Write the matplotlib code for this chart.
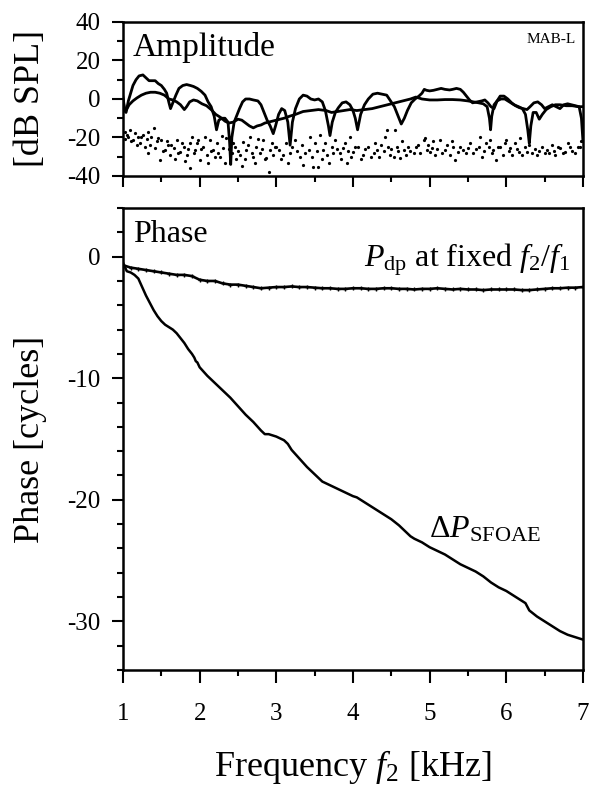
import numpy as np
import matplotlib
matplotlib.use('Agg')
from matplotlib import pyplot as plt
from matplotlib.ticker import MultipleLocator

plt.rcParams['font.family'] = ['Liberation Serif', 'DejaVu Serif']
plt.rcParams['mathtext.fontset'] = 'custom'
plt.rcParams['mathtext.rm'] = 'Liberation Serif'
plt.rcParams['mathtext.it'] = 'Liberation Serif:italic'
plt.rcParams['mathtext.bf'] = 'Liberation Serif:bold'
plt.rcParams['axes.unicode_minus'] = False

# amplitude, two traces (kHz, dB SPL)
amp1_f = [1.00, 1.02, 1.04, 1.07, 1.10, 1.13, 1.17, 1.21, 1.26, 1.30, 1.34, 1.38, 1.42, 1.46, 1.50,
          1.54, 1.57, 1.60, 1.62, 1.65, 1.69, 1.73, 1.78, 1.83, 1.88, 1.92, 1.97, 2.02, 2.07, 2.11,
          2.15, 2.19, 2.22, 2.25, 2.29, 2.33, 2.37, 2.39, 2.405, 2.42, 2.45, 2.48, 2.52, 2.56, 2.60,
          2.65, 2.70, 2.76, 2.80, 2.84, 2.88, 2.92, 2.96, 2.99, 3.03, 3.07, 3.11, 3.15, 3.18, 3.21,
          3.25, 3.30, 3.35, 3.40, 3.45, 3.50, 3.55, 3.60, 3.64, 3.68, 3.70, 3.73, 3.77, 3.81, 3.86,
          3.91, 3.96, 4.00, 4.03, 4.06, 4.10, 4.15, 4.20, 4.26, 4.32, 4.38, 4.44, 4.49, 4.54, 4.59,
          4.63, 4.67, 4.71, 4.76, 4.81, 4.86, 4.90, 4.93, 4.96, 5.00, 5.05, 5.10, 5.15, 5.20, 5.26,
          5.30, 5.35, 5.40, 5.44, 5.48, 5.52, 5.56, 5.62, 5.68, 5.72, 5.76, 5.80, 5.84, 5.88, 5.92,
          5.97, 6.02, 6.07, 6.12, 6.17, 6.22, 6.27, 6.31, 6.36, 6.41, 6.46, 6.50, 6.55, 6.60, 6.65,
          6.70, 6.75, 6.80, 6.85, 6.90, 6.95, 6.98, 7.00]
amp1_db = [0, -6, -7, -1, 3, 7, 10, 12, 12.5, 11, 9.5, 9.5, 9.5, 8, 7,
           5, 3, -2, -5, -2, 2, 5.5, 7, 7.5, 7, 6.5, 5.5, 4, 2, -1.5,
           -4, -9, -16, -11, -10, -10, -12, -22, -34, -20, -12, -9, -5, -1.5, 0,
           0, -0.5, -1, -3, -7, -11, -14, -18, -14, -8, -5, -6, -12, -24, -12,
           -5, 0, 2, 1.5, 0, -0.5, 0, -1.5, -6, -14, -19, -12, -7, -4.5, -2,
           -1.5, -3, -6, -10, -16, -8, -3, 0, 2.5, 3, 2.5, 2, -1, -4, -9,
           -13, -10, -6, -2, 0, 1.5, 3, 5, 4.5, 4.2, 4.5, 5, 5.5, 5, 4.7,
           5, 5.5, 5, 3.5, 1.5, -0.5, -2, -1.5, -1, -0.5, -2, -4, -5, -1, 1.5,
           1.5, 0, -2, -3.5, -4.5, -5, -5.5, -4, -2, -1.5, -3, -5, -4, -3, -4,
           -5, -3, -2.5, -3, -3.5, -4, -10, -22]

amp2_f = [1.00, 1.02, 1.04, 1.08, 1.13, 1.18, 1.24, 1.30, 1.36, 1.42, 1.48, 1.54, 1.60, 1.65, 1.70,
          1.75, 1.80, 1.83, 1.87, 1.92, 1.97, 2.03, 2.09, 2.15, 2.21, 2.27, 2.33, 2.38, 2.44, 2.50,
          2.55, 2.60, 2.65, 2.70, 2.75, 2.80, 2.85, 2.90, 2.95, 3.00, 3.05, 3.10, 3.17, 3.25, 3.35,
          3.45, 3.55, 3.65, 3.72, 3.80, 3.88, 3.96, 4.05, 4.15, 4.25, 4.35, 4.45, 4.55, 4.65, 4.75,
          4.82, 4.90, 5.00, 5.10, 5.20, 5.30, 5.40, 5.50, 5.57, 5.64, 5.70, 5.75, 5.78, 5.795, 5.81,
          5.84, 5.88, 5.93, 5.98, 6.04, 6.10, 6.16, 6.21, 6.25, 6.28, 6.30, 6.32, 6.35, 6.39, 6.43,
          6.47, 6.52, 6.58, 6.64, 6.70, 6.78, 6.86, 6.94, 7.00]
amp2_db = [1, -5, -6, -3, -1, 0.5, 2, 3, 3.5, 3.5, 3, 2, 0, -0.5, -1.5,
           -3, -5.5, -4, -1.5, -0.5, -1, -2.5, -3.5, -5.5, -8, -9.5, -11.5, -12.5, -12, -10.5,
           -11, -12.5, -14, -15, -14, -13.5, -12.5, -12, -11.5, -11, -10.5, -10, -9, -8, -6.5,
           -6, -5.5, -6, -7, -6.5, -6, -5.5, -6, -5.5, -5, -4, -3, -2, -1, 0,
           1, 0, -0.5, -0.5, -0.3, -0.3, -0.5, -1, -1.5, -2, -2.5, -4, -10, -16, -9,
           -3, -1, 0, 0, -1.5, -3, -4, -5, -8, -16, -23, -14, -7, -7, -10.5,
           -8, -5.5, -4, -3, -3, -3.5, -3.5, -4, -4]

# noise floor dots
noise_f = [1.02, 1.03, 1.05, 1.07, 1.09, 1.11, 1.135, 1.16, 1.18, 1.20, 1.22, 1.24, 1.265, 1.29, 1.31,
           1.33, 1.33, 1.35, 1.37, 1.40, 1.42, 1.44, 1.46, 1.48, 1.50,
           1.52, 1.55, 1.57, 1.59, 1.61, 1.63, 1.66, 1.68, 1.70, 1.72, 1.74, 1.77, 1.79, 1.81, 1.83,
           1.85, 1.87, 1.87, 1.90, 1.92, 1.94, 1.96, 1.98, 2.00,
           2.02, 2.05, 2.07, 2.09, 2.11, 2.13, 2.15, 2.18, 2.20, 2.22, 2.24, 2.27, 2.29, 2.31, 2.33,
           2.35, 2.38, 2.42, 2.44, 2.46, 2.48, 2.50,
           2.53, 2.55, 2.57, 2.59, 2.61, 2.63, 2.66, 2.68, 2.70, 2.72, 2.74, 2.76, 2.79, 2.81, 2.83,
           2.85, 2.87, 2.90, 2.92, 2.94, 2.96, 2.98, 3.00,
           3.03, 3.06, 3.09, 3.12, 3.15, 3.18, 3.21, 3.24, 3.27, 3.31, 3.33, 3.35, 3.38, 3.42, 3.44,
           3.46, 3.48, 3.50,
           3.53, 3.55, 3.57, 3.59, 3.61, 3.64, 3.66, 3.69, 3.72, 3.74, 3.76, 3.79, 3.83, 3.85, 3.87,
           3.90, 3.92, 3.94, 3.96, 3.98, 4.00,
           4.03, 4.07, 4.10, 4.13, 4.16, 4.20, 4.23, 4.27, 4.29, 4.31, 4.34, 4.37, 4.40, 4.42, 4.44,
           4.46, 4.48, 4.50,
           4.53, 4.55, 4.57, 4.59, 4.61, 4.64, 4.66, 4.69, 4.72, 4.75, 4.79, 4.82, 4.85, 4.88, 4.92,
           4.94, 4.96, 4.98,
           5.01, 5.03, 5.05, 5.07, 5.10, 5.13, 5.16, 5.20, 5.23, 5.27, 5.29, 5.31, 5.33, 5.37, 5.40,
           5.44, 5.47, 5.50,
           5.53, 5.57, 5.60, 5.64, 5.66, 5.68, 5.71, 5.74, 5.77, 5.79, 5.81, 5.83, 5.87, 5.89, 5.92,
           5.96, 5.98, 6.00,
           6.03, 6.05, 6.08, 6.11, 6.14, 6.16, 6.18, 6.20, 6.24, 6.27, 6.30, 6.33, 6.37, 6.40, 6.43,
           6.46, 6.50,
           6.53, 6.56, 6.59, 6.62, 6.64, 6.67, 6.70, 6.74, 6.77, 6.80, 6.83, 6.86, 6.90, 6.93, 6.96,
           6.98]
noise_db = [-17, -21, -18.7, -20, -16.1, -22, -21.3, -17.8, -24, -19.5, -23, -20, -18.7, -24.7, -21,
            -17, -28.2, -23.9, -20, -15.2, -25.6, -22, -20.4, -31.7, -21.3,
            -27, -26.5, -22, -23.9, -29, -24, -25.6, -31, -21.3, -28, -27.3, -23, -24.7, -32, -29,
            -26, -23, -36, -19.5, -28, -26.5, -23, -21.3, -31.7,
            -26, -24.7, -20, -29, -33, -21.3, -27, -26.5, -30, -23, -28, -30, -19, -25.6, -33,
            -20.4, -26, -28.2, -23, -24.7, -31, -27,
            -29, -35, -22.2, -31, -26.5, -24, -19.5, -28, -30, -33, -24.7, -21, -28.2, -26, -21.3,
            -31, -30.8, -38, -26.5, -23, -29, -25, -24.7,
            -26.5, -31, -29, -23, -33, -28.2, -25, -21.3, -27, -30, -24, -34.3, -28, -26.5, -19.5,
            -30, -35.2, -23,
            -27, -35.2, -18.7, -31, -26.5, -23, -29, -33, -24.7, -28, -21.3, -26, -28.2, -31, -25.6,
            -23, -33.4, -27, -19.5, -30, -27.3,
            -25, -24.7, -31, -29, -26, -24.7, -30, -28.2, -23, -26.5, -30, -23.9, -27, -19.5, -16.1,
            -25, -29, -26,
            -30, -16.1, -24.7, -27, -30.8, -22, -26.5, -29, -24.7, -27, -28.2, -25, -23.9, -28, -21.3,
            -20.4, -26.5, -24,
            -27.3, -25.6, -22, -29, -26, -21.3, -28, -26.5, -24, -29, -22, -24.7, -31.7, -27.3, -25,
            -26.5, -28, -25.6,
            -23, -28.2, -26, -24.7, -19.5, -30, -27, -23, -25, -21.3, -28, -26.5, -31.7, -25, -24.7,
            -29, -23, -21.3,
            -27, -25.6, -29, -23, -26, -27.3, -20.4, -29, -25, -27.3, -24, -28.2, -26, -29, -27,
            -24.7, -28,
            -26.5, -28, -23.9, -27, -29, -25, -25.6, -28, -27.3, -23, -24.7, -27, -28.2, -25, -24.7,
            -22]

# phase (kHz, cycles)
pdp_f = [1.0, 1.1, 1.2, 1.3, 1.4, 1.5, 1.6, 1.7, 1.8, 1.9, 2.0, 2.1, 2.2, 2.3, 2.4, 2.5, 2.6, 2.7,
         2.8, 2.9, 3.0, 3.1, 3.2, 3.3, 3.4, 3.5, 3.6, 3.7, 3.8, 3.9, 4.0, 4.1, 4.2, 4.3, 4.4, 4.5,
         4.6, 4.7, 4.8, 4.9, 5.0, 5.1, 5.2, 5.3, 5.4, 5.5, 5.6, 5.7, 5.8, 5.9, 6.0, 6.1, 6.2, 6.3,
         6.4, 6.5, 6.6, 6.7, 6.8, 6.9, 7.0]
pdp_ph = [-0.7, -0.9, -1.0, -1.1, -1.2, -1.3, -1.4, -1.5, -1.5, -1.6, -1.9, -2.0, -2.0, -2.2, -2.3,
          -2.3, -2.4, -2.5, -2.6, -2.55, -2.5, -2.5, -2.45, -2.5, -2.5, -2.55, -2.6, -2.6, -2.65,
          -2.65, -2.6, -2.6, -2.65, -2.65, -2.6, -2.6, -2.65, -2.65, -2.7, -2.65, -2.65, -2.6, -2.65,
          -2.7, -2.65, -2.7, -2.7, -2.75, -2.7, -2.7, -2.7, -2.7, -2.75, -2.75, -2.7, -2.65, -2.6,
          -2.6, -2.55, -2.55, -2.5]

sf_f = [1.00, 1.05, 1.10, 1.15, 1.20, 1.25, 1.30, 1.35, 1.40, 1.45, 1.50, 1.55, 1.60, 1.65, 1.70,
        1.75, 1.80, 1.85, 1.90, 1.93, 1.95, 1.97, 2.00, 2.10, 2.20, 2.30, 2.40, 2.50, 2.60, 2.70,
        2.80, 2.85, 2.90, 3.00, 3.10, 3.15, 3.20, 3.30, 3.40, 3.50, 3.60, 3.70, 3.80, 3.90, 4.00,
        4.05, 4.10, 4.20, 4.30, 4.40, 4.50, 4.60, 4.70, 4.75, 4.80, 4.90, 5.00, 5.10, 5.20, 5.30,
        5.40, 5.50, 5.60, 5.70, 5.80, 5.90, 6.00, 6.10, 6.20, 6.25, 6.30, 6.40, 6.50, 6.60, 6.70,
        6.80, 6.90, 7.00]
sf_ph = [-0.5, -1.2, -1.3, -1.5, -1.8, -2.5, -3.2, -3.8, -4.4, -4.9, -5.3, -5.6, -5.8, -6.0, -6.3,
         -6.7, -7.1, -7.6, -8.0, -8.3, -8.6, -8.7, -9.1, -9.8, -10.4, -11.0, -11.6, -12.3, -13.0, -13.6,
         -14.3, -14.6, -14.6, -14.8, -15.1, -15.4, -15.9, -16.6, -17.3, -17.9, -18.5, -18.8, -19.1,
         -19.4, -19.7, -19.8, -20.0, -20.4, -20.8, -21.2, -21.6, -22.1, -22.7, -23.0, -23.2, -23.5,
         -23.9, -24.2, -24.5, -24.9, -25.3, -25.6, -25.9, -26.3, -26.8, -27.2, -27.5, -27.9, -28.3,
         -28.5, -29.1, -29.6, -30.0, -30.4, -30.8, -31.1, -31.3, -31.5]

fig = plt.figure(figsize=(5.91, 7.85), dpi=100)
ax1 = fig.add_axes([0.2081, 0.7758, 0.7783, 0.1962])
ax2 = fig.add_axes([0.2081, 0.1465, 0.7783, 0.5885])

ax1.plot(noise_f, noise_db, 'o', color='black', markersize=2.3, markeredgewidth=0)
ax1.plot(amp1_f, amp1_db, color='black', lw=2.0)
ax1.plot(amp2_f, amp2_db, color='black', lw=2.0)

ax2.plot(pdp_f, pdp_ph, color='black', lw=1.9, marker='+', markersize=3.5, markeredgewidth=1.0)
ax2.plot(sf_f, sf_ph, color='black', lw=1.8)

ax1.set_xlim(1, 7)
ax1.set_ylim(-40, 40)
ax1.yaxis.set_major_locator(MultipleLocator(20))
ax1.yaxis.set_minor_locator(MultipleLocator(10))
ax1.xaxis.set_major_locator(MultipleLocator(1))
ax1.xaxis.set_minor_locator(MultipleLocator(0.5))
ax1.tick_params(axis='x', labelbottom=False)

ax2.set_xlim(1, 7)
ax2.set_ylim(-34, 4)
ax2.yaxis.set_major_locator(MultipleLocator(10))
ax2.yaxis.set_minor_locator(MultipleLocator(2))
ax2.xaxis.set_major_locator(MultipleLocator(1))
ax2.xaxis.set_minor_locator(MultipleLocator(0.5))

for ax in (ax1, ax2):
    for s in ax.spines.values():
        s.set_linewidth(1.8)
    ax.tick_params(which='major', direction='out', length=8, width=1.5, labelsize=18, pad=8)
    ax.tick_params(which='minor', direction='out', length=4, width=1.5)
ax2.tick_params(axis='x', which='major', length=9, pad=15)

ax1.set_ylabel('[dB SPL]', fontsize=26)
ax2.set_ylabel('Phase [cycles]', fontsize=26)
ax1.yaxis.set_label_coords(-0.165, 0.5)
ax2.yaxis.set_label_coords(-0.165, 0.5)
ax2.set_xlabel('Frequency $f_2$ [kHz]', fontsize=26, labelpad=16)

ax1.text(1.12, 22.3, 'Amplitude', fontsize=24, ha='left', va='baseline')
ax1.text(6.9, 29.1, 'MAB-L', fontsize=11, ha='right', va='baseline')
ax2.text(1.13, 1.23, 'Phase', fontsize=23, ha='left', va='baseline')
ax2.text(6.84, -0.82, r'$P_{\mathrm{dp}}$ at fixed $f_2/f_1$', fontsize=23, ha='right', va='baseline')
ax2.text(4.99, -23.1, r'$\Delta P_{\mathrm{SFOAE}}$', fontsize=23, ha='left', va='baseline')

fig.savefig('out.png', dpi=100)
